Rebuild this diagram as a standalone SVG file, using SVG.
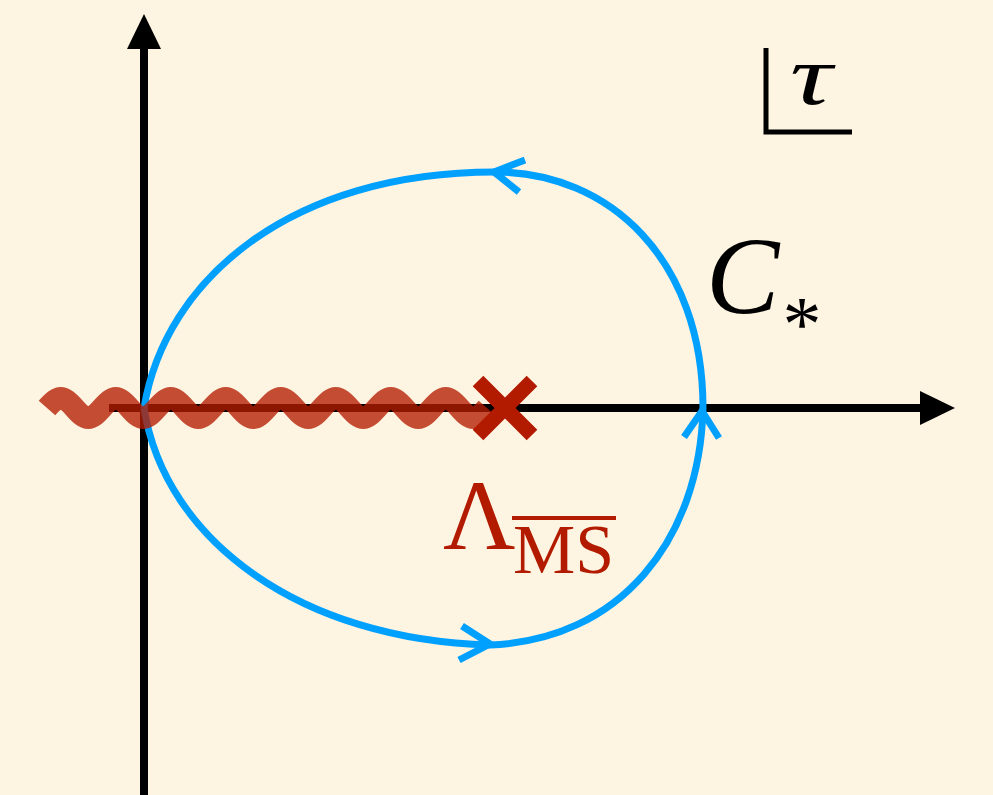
<svg xmlns="http://www.w3.org/2000/svg" width="993" height="795" viewBox="0 0 993 795">
<style>
.axis{stroke:#000;stroke-width:8;fill:none}
.contour{stroke:#00A0FF;stroke-width:7;fill:none;stroke-linejoin:miter}
.red{fill:#B31B00}
.serif{font-family:"Liberation Serif","Times New Roman",serif}
</style>
<rect width="993" height="795" fill="#FEF4E2"/>
<g id="axes">
<line class="axis" x1="144" y1="795" x2="144" y2="45"/>
<polygon points="144,14 127,49 161,49" fill="#000"/>
<line class="axis" x1="109" y1="408" x2="924" y2="408"/>
<polygon points="955,408 920,391 920,425" fill="#000"/>
</g>
<g id="connectors">
<path id="contour" class="contour" d="M144,408 C165,280 290,172 495,172 C610,172 703,260 703,408 C700,540 620,640 490,645 C300,640 165,540 144,408"/>
<path class="contour" d="M525,160 L494,172 L519,192"/>
<path class="contour" d="M462,626 L490,644 L459,660"/>
<path class="contour" d="M684,437 L702,411 L719,438"/>
</g>
<g id="branch-cut">
<path d="M47,408 c11.67,-13.33 15.83,-13.33 27.5,0 c11.67,13.33 15.83,13.33 27.5,0 c11.67,-13.33 15.83,-13.33 27.5,0 c11.67,13.33 15.83,13.33 27.5,0 c11.67,-13.33 15.83,-13.33 27.5,0 c11.67,13.33 15.83,13.33 27.5,0 c11.67,-13.33 15.83,-13.33 27.5,0 c11.67,13.33 15.83,13.33 27.5,0 c11.67,-13.33 15.83,-13.33 27.5,0 c11.67,13.33 15.83,13.33 27.5,0 c11.67,-13.33 15.83,-13.33 27.5,0 c11.67,13.33 15.83,13.33 27.5,0 c11.67,-13.33 15.83,-13.33 27.5,0 c11.67,13.33 15.83,13.33 27.5,0 c11.67,-13.33 15.83,-13.33 27.5,0 c11.67,13.33 15.83,13.33 27.5,0" fill="none" stroke="#B41C00" stroke-opacity="0.78" stroke-width="22"/>
</g>
<g id="lambda-point">
<path d="M478,381 L532,435 M478,435 L532,381" stroke="#B31B00" stroke-width="15" fill="none"/>
<text class="serif red" x="443" y="549" font-size="100">Λ</text>
<text class="serif red" x="513" y="573" font-size="70">MS</text>
<rect class="red" x="512" y="516" width="104" height="4"/>
</g>
<g id="tau-label">
<path d="M766,48 V132 H852" stroke="#000" stroke-width="5" fill="none"/>
<text class="serif" transform="translate(790,104) scale(1.4,1)" font-size="84" font-style="italic">τ</text>
</g>
<g id="contour-label">
<text class="serif" x="706" y="313" font-size="110" font-style="italic">C</text>
<text class="serif" x="802" y="350" font-size="78" text-anchor="middle">*</text>
</g>
</svg>
